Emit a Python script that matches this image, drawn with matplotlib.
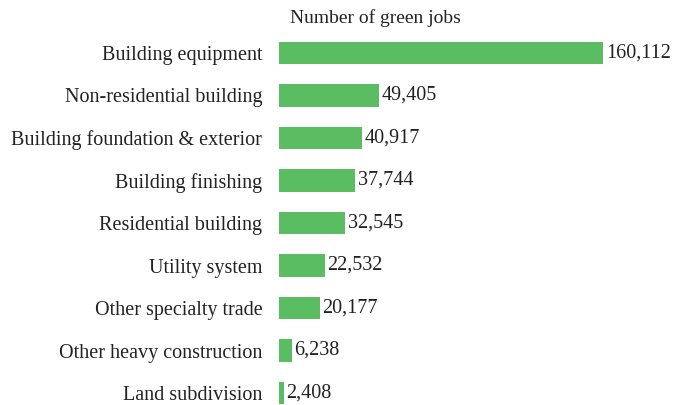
import matplotlib.pyplot as plt

categories = ["Building equipment", "Non-residential building", "Building foundation & exterior",
              "Building finishing", "Residential building", "Utility system",
              "Other specialty trade", "Other heavy construction", "Land subdivision"]
jobs = [160112, 49405, 40917, 37744, 32545, 22532, 20177, 6238, 2408]

plt.rcParams['font.family'] = ['Liberation Serif', 'DejaVu Serif']
text_color = '#222222'
bar_color = '#5bbd62'

fig = plt.figure(figsize=(6.86, 4.05), dpi=100)
ax = fig.add_axes([279 / 686, 0, 1 - 279 / 686 - 0.003, 1 - 22 / 405])

ypos = list(range(len(categories)))
ax.barh(ypos, jobs, height=0.52, color=bar_color)
for y, v in zip(ypos, jobs):
    ax.text(v + 1300, y, f"{v:,}", va='center', ha='left', fontsize=14.5, color=text_color)

ax.set_xlim(0, 200000)
ax.set_ylim(8.282, -0.729)
ax.set_yticks(ypos)
ax.set_yticklabels(categories, fontsize=14.5, color=text_color)
ax.tick_params(axis='y', length=0, pad=12)
ax.set_xticks([])
for s in ax.spines.values():
    s.set_visible(False)

fig.text(375 / 686, 1 - 18 / 405, "Number of green jobs", ha='center', va='center',
         fontsize=14, color=text_color)

fig.savefig("out.png", dpi=100)
